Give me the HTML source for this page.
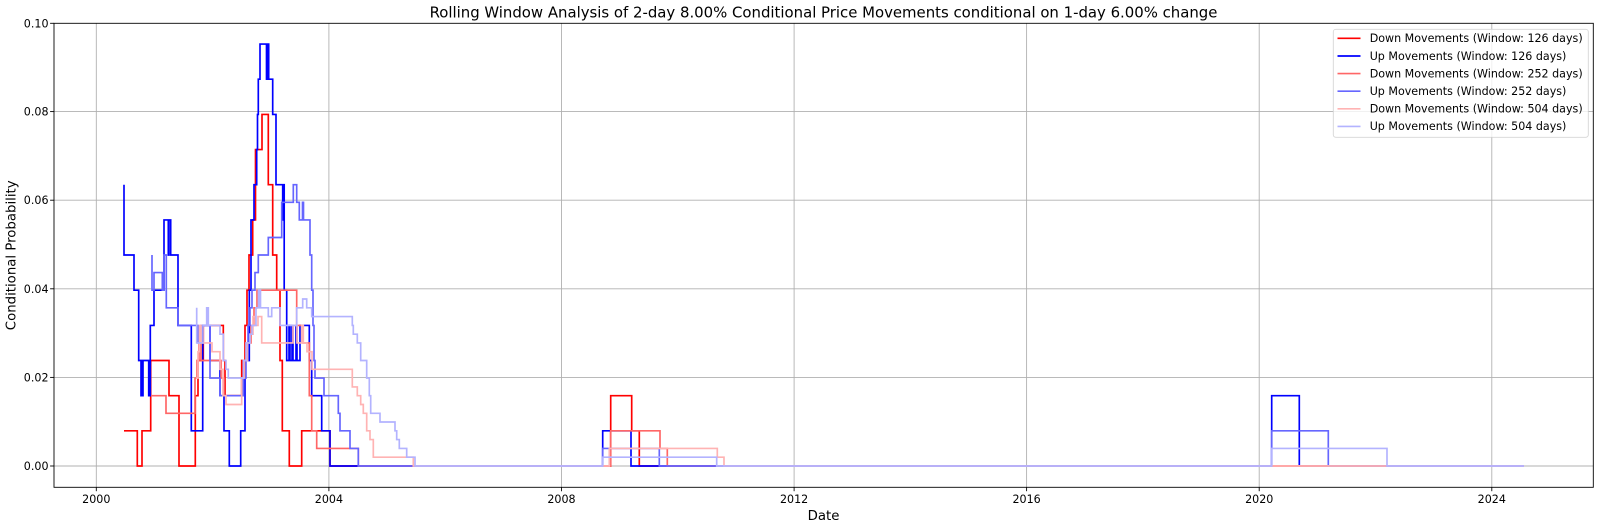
<!DOCTYPE html>
<html>
<head>
<meta charset="utf-8">
<style>
  html, body { margin: 0; padding: 0; background: #ffffff; }
  svg { display: block; }
  text { font-family: "DejaVu Sans", "Liberation Sans", sans-serif; fill: #000; }
</style>
</head>
<body>
<svg width="1600" height="529" viewBox="0 0 1600 529" xmlns="http://www.w3.org/2000/svg">
  <rect x="0" y="0" width="1600" height="529" fill="#ffffff"/>

  <!-- grid -->
  <g stroke="#b0b0b0" stroke-width="0.89" fill="none">
    <line x1="54" y1="466" x2="1593.3" y2="466"/>
    <line x1="54" y1="377.4" x2="1593.3" y2="377.4"/>
    <line x1="54" y1="288.8" x2="1593.3" y2="288.8"/>
    <line x1="54" y1="200.2" x2="1593.3" y2="200.2"/>
    <line x1="54" y1="111.6" x2="1593.3" y2="111.6"/>
    <line x1="96.3" y1="23.3" x2="96.3" y2="487.3"/>
    <line x1="328.9" y1="23.3" x2="328.9" y2="487.3"/>
    <line x1="561.5" y1="23.3" x2="561.5" y2="487.3"/>
    <line x1="794.1" y1="23.3" x2="794.1" y2="487.3"/>
    <line x1="1026.6" y1="23.3" x2="1026.6" y2="487.3"/>
    <line x1="1259.2" y1="23.3" x2="1259.2" y2="487.3"/>
    <line x1="1491.8" y1="23.3" x2="1491.8" y2="487.3"/>
  </g>

  <!-- series -->
  <g fill="none" stroke-width="1.67" stroke-linejoin="miter" stroke-linecap="butt">
    <!-- Down 126 -->
    <path stroke="#ff0000" d="M124,430.8 H137.3 V466 H142 V430.8 H150.7 V360.5 H169 V395.7 H179 V466 H195.3 V395.7 H198 V360.5 H203.3 V325.4 H223.3 V360.5 H225 V395.7 H241.7 V360.5 H245 V325.4 H247 V290.2 H249 V255 H252.7 V219.9 H255.5 V149.6 H262 V114.4 H268.3 V184.7 H272.7 V255 H276.7 V290.2 H280 V360.5 H282.3 V430.8 H289.3 V466 H301.7 V430.8 H330 V466 H610.7 V395.7 H631.7 V430.8 H639.3 V466 H1524"/>
    <!-- Up 126 -->
    <path stroke="#0000ff" d="M124,184.7 V255 H134 V290.2 H138.7 V360.5 H141 V395.7 H141.7 V360.5 H142.3 V395.7 H143 V360.5 H148.7 V395.7 H149.3 V360.5 H149.8 V395.7 H150.3 V325.4 H154 V290.2 H164 V219.9 H168.3 V255 H168.9 V219.9 H170.7 V255 H178 V325.4 H191.3 V430.8 H202.7 V325.4 H210 V360.5 H220 V395.7 H224 V430.8 H229.3 V466 H240.7 V430.8 H245 V360.5 H249.3 V290.2 H251 V219.9 H254 V184.7 H256.7 V149.6 H257.5 V114.4 H258.3 V79.2 H260 V44.1 H266.5 V79.2 H267.2 V44.1 H268.7 V79.2 H272.7 V114.4 H276 V184.7 H282.7 V219.9 H283.4 V184.7 H284.2 V290.2 H286.7 V360.5 H289 V325.4 H290 V360.5 H292 V325.4 H293 V360.5 H296 V325.4 H297 V360.5 H300 V325.4 H309.3 V360.5 H311.7 V395.7 H321.7 V430.8 H330 V466 H602.7 V430.8 H631 V466 H1271.7 V395.7 H1299.3 V466 H1524"/>
    <!-- Down 252 -->
    <path stroke="#ff6666" d="M151,395.7 H166 V413.3 H195 V378.1 H197 V360.5 H199 V342.9 H201 V360.5 H203 V360.5 H221 V378.1 H224 V395.7 H242 V378.1 H245 V360.5 H248 V342.9 H251 V325.4 H254 V307.8 H257 V290.2 H296.7 V325.4 H302.7 V342.9 H309.3 V395.7 H311.7 V430.8 H316.7 V448.4 H358.3 V466 H610.7 V430.8 H660 V448.4 H667.3 V466 H1524"/>
    <!-- Up 252 -->
    <path stroke="#6666ff" d="M152,255 V290.2 H154 V272.6 H162.3 V290.2 H164 V255 H166.3 V307.8 H178 V325.4 H198 V342.9 H200.7 V325.4 H210 V378.1 H220 V395.7 H243.3 V378.1 H246 V360.5 H248 V325.4 H250 V307.8 H252 V290.2 H255 V272.6 H258.3 V255 H268.3 V237.5 H281.7 V202.3 H293.3 V184.7 H296.7 V202.3 H299.3 V219.9 H302.5 V202.3 H303.5 V219.9 H310 V255 H311.7 V290.2 H313 V325.4 H314 V360.5 H315 V378.1 H324 V395.7 H338.3 V413.3 H340 V430.8 H350 V448.4 H358.3 V466 H602.7 V448.4 H659.3 V466 H1271.7 V430.8 H1328.3 V466 H1524"/>
    <!-- Down 504 -->
    <path stroke="#ffb3b3" d="M196,378.1 H198 V351.7 H199.5 V325.4 H201 V342.9 H212 V351.7 H220 V369.3 H223 V395.7 H226 V404.5 H241.7 V378.1 H244 V360.5 H247 V342.9 H250 V334.2 H253 V316.6 H255 V325.4 H258 V316.6 H261.7 V342.9 H293 V325.4 H297 V342.9 H301.7 V325.4 H303.3 V342.9 H307 V351.7 H312 V369.3 H352.3 V386.9 H357.3 V395.7 H360.7 V404.5 H363.3 V413.3 H366.7 V430.8 H370 V439.6 H373.3 V457.2 H413.3 V466 H609.3 V448.4 H717.3 V457.2 H724 V466 H1524"/>
    <!-- Up 504 -->
    <path stroke="#b3b3ff" d="M196.7,307.8 V342.9 H203 V325.4 H206.7 V307.8 H208.3 V325.4 H220 V334.2 H223.3 V360.5 H226 V369.3 H228.3 V378.1 H243.3 V360.5 H246 V342.9 H250 V334.2 H252 V325.4 H256 V307.8 H258.5 V290.2 H259.5 V307.8 H260 V290.2 H260.5 V307.8 H268.3 V316.6 H271.7 V307.8 H280 V325.4 H296.7 V307.8 H302.7 V299 H306.7 V307.8 H311.7 V316.6 H352.3 V325.4 H353.3 V334.2 H357.3 V342.9 H360.7 V360.5 H366.7 V378.1 H369.3 V395.7 H370.7 V413.3 H380 V422 H395 V430.8 H396.7 V439.6 H399.3 V448.4 H406.7 V457.2 H415 V466 H602.7 V457.2 H716.7 V466 H1271.7 V448.4 H1387 V466 H1524"/>
  </g>

  <!-- spines -->
  <rect x="54" y="23.3" width="1539.3" height="464" fill="none" stroke="#000" stroke-width="0.89"/>

  <!-- ticks -->
  <g stroke="#000" stroke-width="0.89">
    <line x1="96.3" y1="487.3" x2="96.3" y2="491.2"/>
    <line x1="328.9" y1="487.3" x2="328.9" y2="491.2"/>
    <line x1="561.5" y1="487.3" x2="561.5" y2="491.2"/>
    <line x1="794.1" y1="487.3" x2="794.1" y2="491.2"/>
    <line x1="1026.6" y1="487.3" x2="1026.6" y2="491.2"/>
    <line x1="1259.2" y1="487.3" x2="1259.2" y2="491.2"/>
    <line x1="1491.8" y1="487.3" x2="1491.8" y2="491.2"/>
    <line x1="50.1" y1="466" x2="54" y2="466"/>
    <line x1="50.1" y1="377.4" x2="54" y2="377.4"/>
    <line x1="50.1" y1="288.8" x2="54" y2="288.8"/>
    <line x1="50.1" y1="200.2" x2="54" y2="200.2"/>
    <line x1="50.1" y1="111.6" x2="54" y2="111.6"/>
    <line x1="50.1" y1="23.3" x2="54" y2="23.3"/>
  </g>

  <!-- tick labels -->
  <g font-size="11.1" text-anchor="middle">
    <text x="96.3" y="503">2000</text>
    <text x="328.9" y="503">2004</text>
    <text x="561.5" y="503">2008</text>
    <text x="794.1" y="503">2012</text>
    <text x="1026.6" y="503">2016</text>
    <text x="1259.2" y="503">2020</text>
    <text x="1491.8" y="503">2024</text>
  </g>
  <g font-size="11.1" text-anchor="end">
    <text x="48.5" y="470">0.00</text>
    <text x="48.5" y="381.4">0.02</text>
    <text x="48.5" y="292.8">0.04</text>
    <text x="48.5" y="204.2">0.06</text>
    <text x="48.5" y="115.6">0.08</text>
    <text x="48.5" y="27.3">0.10</text>
  </g>

  <!-- axis labels and title -->
  <text x="823.5" y="520" font-size="13.3" text-anchor="middle">Date</text>
  <text x="15.5" y="255.3" font-size="13.3" text-anchor="middle" transform="rotate(-90 15.5 255.3)">Conditional Probability</text>
  <text x="823.5" y="17.3" font-size="14.9" text-anchor="middle">Rolling Window Analysis of 2-day 8.00% Conditional Price Movements conditional on 1-day 6.00% change</text>

  <!-- legend -->
  <rect x="1333.3" y="29.3" width="255" height="108" rx="2.5" ry="2.5" fill="#ffffff" fill-opacity="0.8" stroke="#cccccc" stroke-opacity="0.8" stroke-width="0.89"/>
  <g stroke-width="1.67">
    <line x1="1337.5" y1="38.3" x2="1360.5" y2="38.3" stroke="#ff0000"/>
    <line x1="1337.5" y1="56" x2="1360.5" y2="56" stroke="#0000ff"/>
    <line x1="1337.5" y1="73.6" x2="1360.5" y2="73.6" stroke="#ff6666"/>
    <line x1="1337.5" y1="91.2" x2="1360.5" y2="91.2" stroke="#6666ff"/>
    <line x1="1337.5" y1="108.8" x2="1360.5" y2="108.8" stroke="#ffb3b3"/>
    <line x1="1337.5" y1="126.4" x2="1360.5" y2="126.4" stroke="#b3b3ff"/>
  </g>
  <g font-size="11.1">
    <text x="1369.7" y="42.1">Down Movements (Window: 126 days)</text>
    <text x="1369.7" y="59.8">Up Movements (Window: 126 days)</text>
    <text x="1369.7" y="77.4">Down Movements (Window: 252 days)</text>
    <text x="1369.7" y="95">Up Movements (Window: 252 days)</text>
    <text x="1369.7" y="112.6">Down Movements (Window: 504 days)</text>
    <text x="1369.7" y="130.2">Up Movements (Window: 504 days)</text>
  </g>
</svg>
</body>
</html>
